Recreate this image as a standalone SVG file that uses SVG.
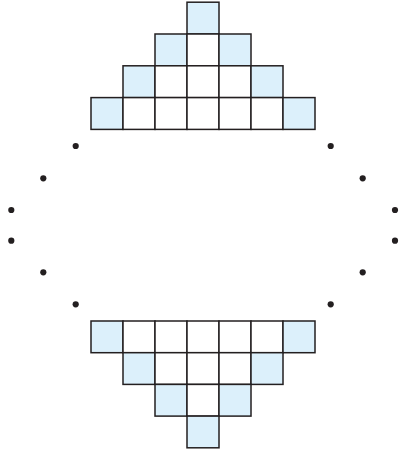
<svg xmlns="http://www.w3.org/2000/svg" width="400" height="454" viewBox="0 0 400 454">
<style>
rect{stroke:#231f20;stroke-width:1.5}
.b{fill:#dcf0fb}
.w{fill:#ffffff}
circle{fill:#231f20}
</style>
<rect width="400" height="454" fill="#ffffff" style="stroke:none"/>
<g id="top-triangle">
<g id="t-r0"><rect class="b" x="187" y="2.2" width="32" height="31.8"/></g>
<g id="t-r1">
<rect class="b" x="155" y="34" width="32" height="31.8"/>
<rect class="w" x="187" y="34" width="32" height="31.8"/>
<rect class="b" x="219" y="34" width="32" height="31.8"/>
</g>
<g id="t-r2">
<rect class="b" x="123" y="65.8" width="32" height="31.8"/>
<rect class="w" x="155" y="65.8" width="32" height="31.8"/>
<rect class="w" x="187" y="65.8" width="32" height="31.8"/>
<rect class="w" x="219" y="65.8" width="32" height="31.8"/>
<rect class="b" x="251" y="65.8" width="32" height="31.8"/>
</g>
<g id="t-r3">
<rect class="b" x="91" y="97.6" width="32" height="31.8"/>
<rect class="w" x="123" y="97.6" width="32" height="31.8"/>
<rect class="w" x="155" y="97.6" width="32" height="31.8"/>
<rect class="w" x="187" y="97.6" width="32" height="31.8"/>
<rect class="w" x="219" y="97.6" width="32" height="31.8"/>
<rect class="w" x="251" y="97.6" width="32" height="31.8"/>
<rect class="b" x="283" y="97.6" width="32" height="31.8"/>
</g>
</g>
<g id="bottom-triangle">
<g id="b-r0">
<rect class="b" x="91" y="321" width="32" height="31.7"/>
<rect class="w" x="123" y="321" width="32" height="31.7"/>
<rect class="w" x="155" y="321" width="32" height="31.7"/>
<rect class="w" x="187" y="321" width="32" height="31.7"/>
<rect class="w" x="219" y="321" width="32" height="31.7"/>
<rect class="w" x="251" y="321" width="32" height="31.7"/>
<rect class="b" x="283" y="321" width="32" height="31.7"/>
</g>
<g id="b-r1">
<rect class="b" x="123" y="352.7" width="32" height="31.7"/>
<rect class="w" x="155" y="352.7" width="32" height="31.7"/>
<rect class="w" x="187" y="352.7" width="32" height="31.7"/>
<rect class="w" x="219" y="352.7" width="32" height="31.7"/>
<rect class="b" x="251" y="352.7" width="32" height="31.7"/>
</g>
<g id="b-r2">
<rect class="b" x="155" y="384.4" width="32" height="31.7"/>
<rect class="w" x="187" y="384.4" width="32" height="31.7"/>
<rect class="b" x="219" y="384.4" width="32" height="31.7"/>
</g>
<g id="b-r3"><rect class="b" x="187" y="416.1" width="32" height="31.7"/></g>
</g>
<g id="dots">
<circle cx="75.7" cy="146" r="3.1"/>
<circle cx="43.3" cy="178.3" r="3.1"/>
<circle cx="11.3" cy="210" r="3.1"/>
<circle cx="11.3" cy="240.7" r="3.1"/>
<circle cx="43.3" cy="272.3" r="3.1"/>
<circle cx="75.7" cy="304.3" r="3.1"/>
<circle cx="330.7" cy="146" r="3.1"/>
<circle cx="362.7" cy="178.3" r="3.1"/>
<circle cx="395" cy="210" r="3.1"/>
<circle cx="395" cy="240.7" r="3.1"/>
<circle cx="362.7" cy="272.3" r="3.1"/>
<circle cx="330.7" cy="304.3" r="3.1"/>
</g>
<g id="connectors"/>
</svg>
